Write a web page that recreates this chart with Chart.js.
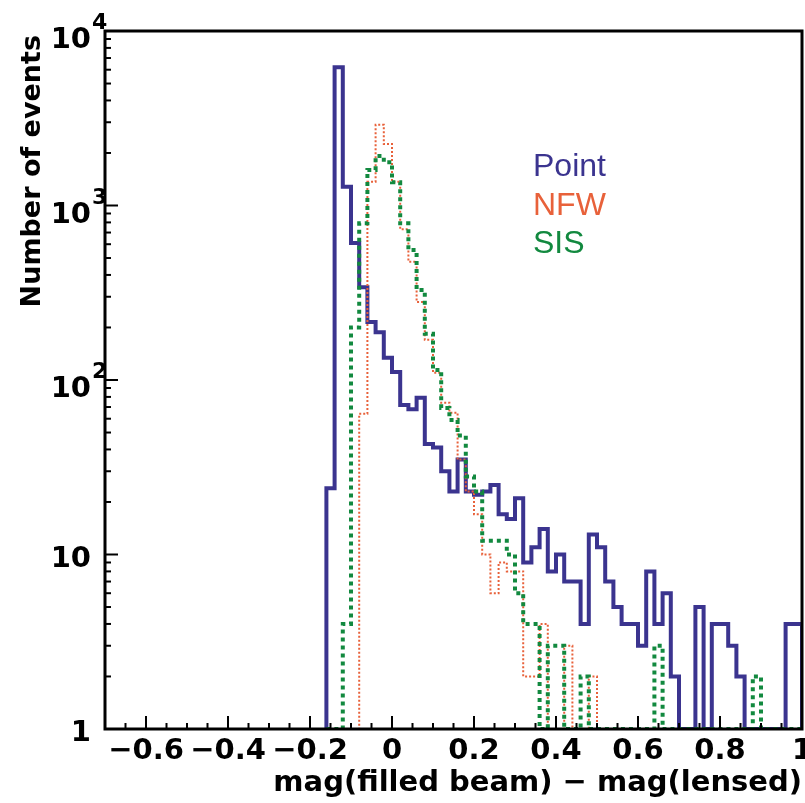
<!DOCTYPE html>
<html>
<head>
<meta charset="utf-8">
<script src="https://cdn.jsdelivr.net/npm/chart.js@4.4.0/dist/chart.umd.min.js"></script>
<style>
html,body{margin:0;padding:0;background:#fff;}
#wrap{width:805px;height:803px;position:relative;}
</style>
</head>
<body>
<div id="wrap"><canvas id="c" width="805" height="803"></canvas></div>
<script>
// histogram bins: 0.02 wide, first bin starts at -0.16
const binStart = -0.16
const binWidth = 0.02
const pointCounts = [24,6200,1280,610,340,215,188,134,111,72,68,79,43,41,30,23,35,23,22,23,25,17,16,21,9,11,14,8,10,7,7,4,13,11,7,5,4,4,3,8,4,6,2,0,0,5,0,4,4,3,2,0,0,0,0,0,4,4]
const nfwCounts = [0,0,0,0,64,1370,2900,2250,1370,730,476,280,170,110,74,65,35,23,17,10,6,9,8,8,2,2,4,0,0,3,0,0,2,0,0,0,0,0,0,0,0,0,0,0,0,0,0,0,0,0,0,0,0,0,0,0,0,0]
const sisCounts = [0,0,4,200,790,1600,1920,1770,1360,790,556,328,184,114,69,59,48,28,23,12,12,12,10,6,4,4,0,3,3,0,0,2,0,0,0,0,0,0,0,0,3,0,0,0,0,0,0,0,0,0,0,0,2,0,0,0,0,0]
const xTickValues = [-0.6,-0.4,-0.2,0,0.2,0.4,0.6,0.8,1]
const xTickLabels = ["\u22120.6","\u22120.4","\u22120.2","0","0.2","0.4","0.6","0.8","1"]
const yTickValues = [1,10,100,1000,10000]
const yTickLabels = [["1",""],["10",""],["10","2"],["10","3"],["10","4"]]
const seriesNames = ["Point","NFW","SIS"]
const seriesColors = ["#3b348f","#e8613a","#12893f"]

function stepPoints(counts){
    var pts = [{x: binStart, y: 1}]
    for (var i = 0; i < counts.length; i++) {
        pts.push({x: binStart + i*binWidth, y: Math.max(counts[i], 1)})
    }
    pts.push({x: binStart + counts.length*binWidth, y: 1})
    return pts
}

const tickFont = "bold 29px 'DejaVu Sans'"

const rootAxes = {
    id: 'rootAxes',
    afterDatasetsDraw(chart) {
        var ctx = chart.ctx
        var a = chart.chartArea
        var xs = chart.scales.x
        var ys = chart.scales.y
        ctx.save()
        ctx.strokeStyle = "#000"
        ctx.fillStyle = "#000"
        // ticks on x
        ctx.lineWidth = 2
        for (var k = -14; k <= 20; k++) {
            var v = k*0.05
            var px = xs.getPixelForValue(v)
            var len = (k % 4 == 0) ? 13 : 6
            ctx.beginPath()
            ctx.moveTo(px, a.bottom)
            ctx.lineTo(px, a.bottom - len)
            ctx.stroke()
        }
        // ticks on y (log)
        for (var d = 0; d < 4; d++) {
            for (var m = 1; m <= 9; m++) {
                var val = m*Math.pow(10, d)
                var py = ys.getPixelForValue(val)
                var len = (m == 1) ? 13 : 6
                ctx.beginPath()
                ctx.moveTo(a.left, py)
                ctx.lineTo(a.left + len, py)
                ctx.stroke()
            }
        }
        // frame
        ctx.lineWidth = 3
        ctx.strokeRect(a.left, a.top, a.right - a.left, a.bottom - a.top)

        // x labels
        ctx.font = tickFont
        ctx.textAlign = "center"
        ctx.textBaseline = "alphabetic"
        xTickValues.forEach((v, i) => {
            ctx.fillText(xTickLabels[i], xs.getPixelForValue(v), a.bottom + 30)
        })
        // y labels
        yTickValues.forEach((v, i) => {
            var py = ys.getPixelForValue(v)
            var base = yTickLabels[i][0], sup = yTickLabels[i][1]
            ctx.font = tickFont
            if (sup == "") {
                ctx.textAlign = "right"
                ctx.fillText(base, a.left - 14, py + 12)
            } else {
                ctx.textAlign = "right"
                ctx.fillText(base, a.left - 14, py + 17)
                ctx.font = "bold 22px 'DejaVu Sans'"
                ctx.textAlign = "left"
                ctx.fillText(sup, a.left - 13, py - 2)
            }
        })
        // axis titles
        ctx.font = tickFont
        ctx.textAlign = "right"
        ctx.fillText("mag(filled beam) \u2212 mag(lensed)", a.right, a.bottom + 62)
        ctx.save()
        ctx.translate(40, a.top + 4)
        ctx.rotate(-Math.PI/2)
        ctx.textAlign = "right"
        ctx.font = "bold 27px 'DejaVu Sans'"
        ctx.fillText("Number of events", 0, 0)
        ctx.restore()

        // legend
        ctx.font = "32px 'Liberation Sans'"
        ctx.textAlign = "left"
        seriesNames.forEach((n, i) => {
            ctx.fillStyle = seriesColors[i]
            ctx.fillText(n, 533, 176 + i*38.5)
        })
        ctx.restore()
    }
}

const chart = new Chart(document.getElementById("c"), {
    type: 'line',
    data: {
        datasets: [
            {
                label: seriesNames[2],
                data: stepPoints(sisCounts),
                borderColor: seriesColors[2],
                borderWidth: 4,
                borderDash: [4,4],
                order: 0
            },
            {
                label: seriesNames[1],
                data: stepPoints(nfwCounts),
                borderColor: seriesColors[1],
                borderWidth: 2,
                borderDash: [2,2],
                order: 1
            },
            {
                label: seriesNames[0],
                data: stepPoints(pointCounts),
                borderColor: seriesColors[0],
                borderWidth: 4,
                order: 2
            }
        ]
    },
    options: {
        responsive: false,
        animation: false,
        layout: {padding: {left: 105, right: 3, top: 31, bottom: 74}},
        elements: {
            point: {radius: 0},
            line: {stepped: true, tension: 0, fill: false, borderJoinStyle: 'miter', borderCapStyle: 'butt'}
        },
        scales: {
            x: {type: 'linear', min: -0.7, max: 1, display: false},
            y: {type: 'logarithmic', min: 1, max: 10000, display: false}
        },
        plugins: {
            legend: {display: false},
            tooltip: {enabled: false}
        }
    },
    plugins: [rootAxes]
})
</script>
</body>
</html>
